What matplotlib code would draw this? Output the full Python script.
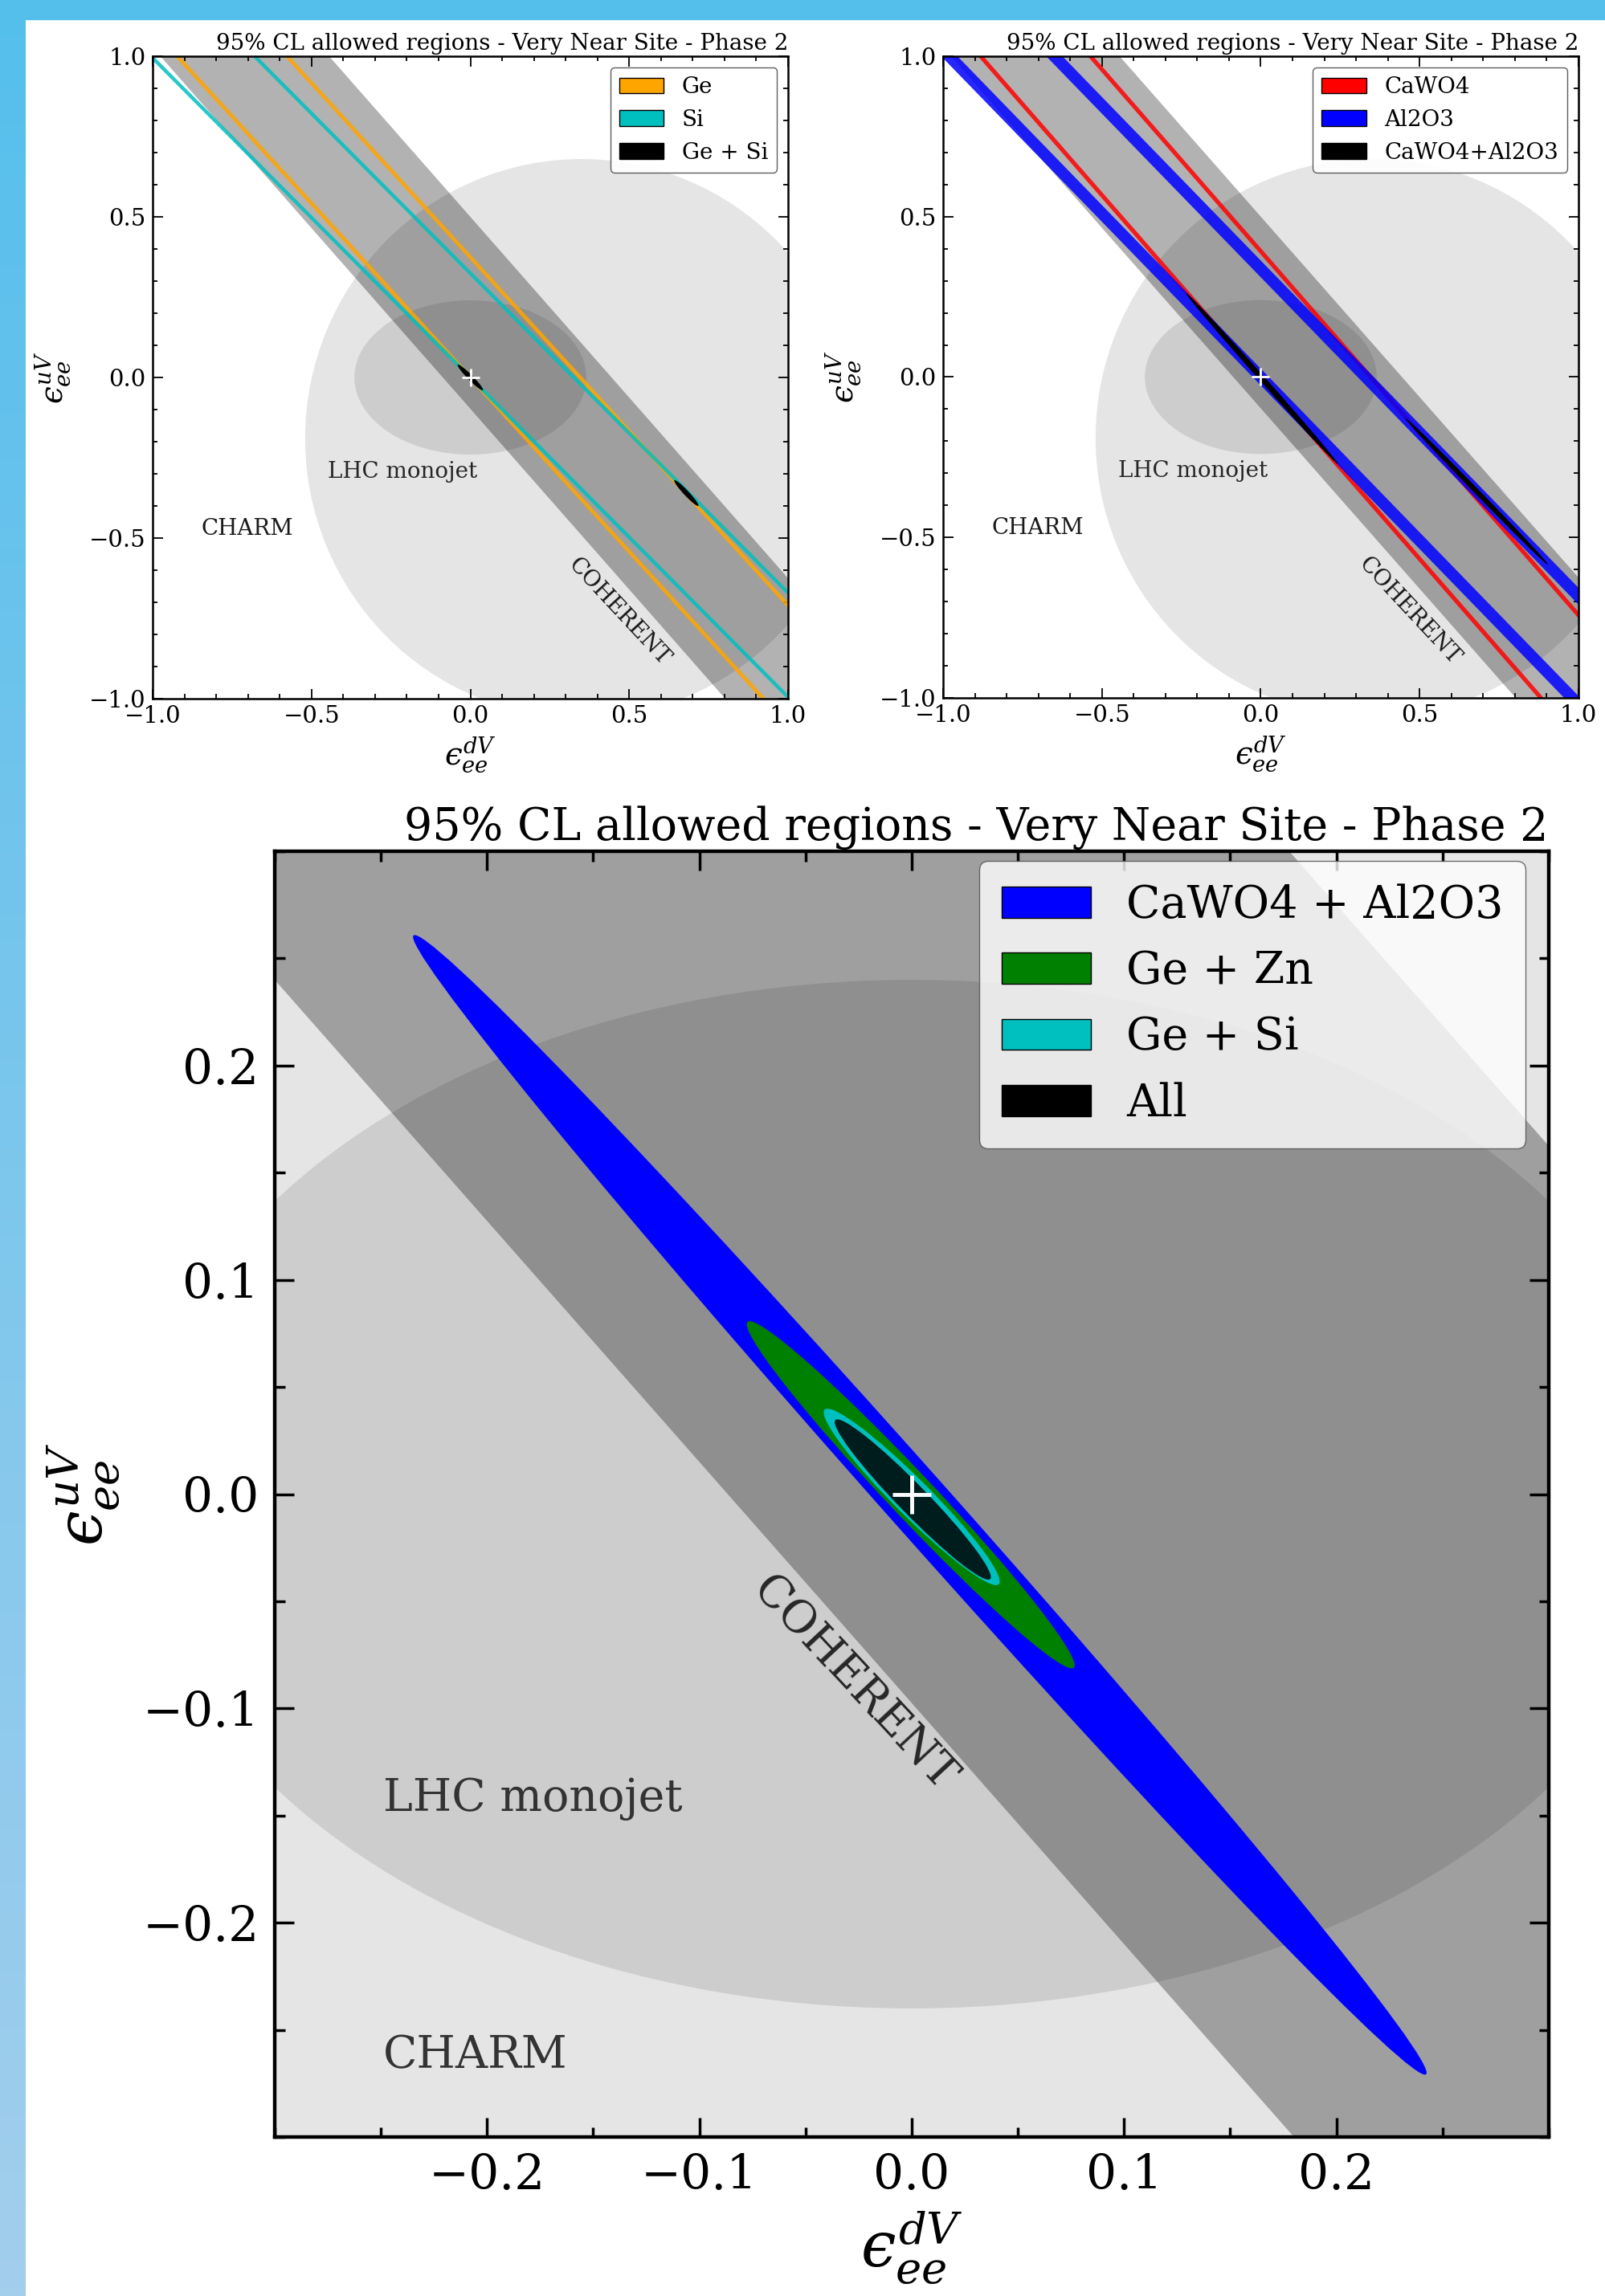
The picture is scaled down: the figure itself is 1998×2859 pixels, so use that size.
import numpy as np
import matplotlib
matplotlib.use("Agg")
import matplotlib.pyplot as plt
from matplotlib.patches import Ellipse, Rectangle
from matplotlib.ticker import MultipleLocator

plt.rcParams['font.family'] = ['DejaVu Serif', 'DejaVu Sans']
plt.rcParams['mathtext.fontset'] = 'dejavuserif'

# ---------------- data ----------------
# Existing bounds (shared by all panels)
coherent_slope = 1.125          # band: lo <= y + slope*x <= hi
coherent_lo = -0.0975
coherent_hi = 0.50
lhc_center = (0.0, 0.0)
lhc_semi = (0.365, 0.24)
charm_center = (0.35, -0.19)
charm_semi = (0.87, 0.87)

# Panel 1: single-target bands (slope, intercepts of the two degenerate bands, half-width)
p1_labels = ['Ge', 'Si']
p1_colors = ['#FFA500', '#00BFBF']
p1_slopes = [1.084, 0.995]
p1_intercepts = [[0.0, 0.3745], [0.0, 0.3244]]
p1_halfwidths = [0.009, 0.008]
p1_comb_label = 'Ge + Si'
# combined region blobs: (cx, cy, half-length, half-width, angle deg)
p1_comb_cx = [0.0, 0.68]
p1_comb_cy = [0.0, -0.36]
p1_comb_len = [0.056, 0.055]
p1_comb_wid = [0.008, 0.008]
p1_comb_ang = [-45.0, -46.5]

# Panel 2
p2_labels = ['CaWO4', 'Al2O3']
p2_colors = ['#FF0000', '#0000FF']
p2_slopes = [1.134, 1.02]
p2_intercepts = [[0.0, 0.392], [0.0, 0.337]]
p2_halfwidths = [0.010, 0.026]
p2_comb_label = 'CaWO4+Al2O3'
p2_comb_cx = [0.004, 0.68]
p2_comb_cy = [-0.005, -0.357]
p2_comb_len = [0.357, 0.32]
p2_comb_wid = [0.009, 0.008]
p2_comb_ang = [-48.1, -45.5]

# Panel 3: combined regions (zoom)
p3_labels = ['CaWO4 + Al2O3', 'Ge + Zn', 'Ge + Si', 'All']
p3_colors = ['#0000FF', '#008000', '#00BFBF', '#000000']
p3_cx = [0.0038, -0.0005, 0.0, 0.0005]
p3_cy = [-0.005, -0.0003, -0.0013, -0.0025]
p3_len = [0.357, 0.1114, 0.0578, 0.052]
p3_wid = [0.0145, 0.0105, 0.0085, 0.0068]
p3_ang = [-48.1, -46.4, -44.8, -45.5]
p3_ticks = [-0.2, -0.1, 0.0, 0.1, 0.2]

title = '95% CL allowed regions - Very Near Site - Phase 2'
xlab = '$\u03f5_{ee}^{dV}$'
ylab = '$\u03f5_{ee}^{uV}$'

# ---------------- figure ----------------
W, H = 1999, 2859
fig = plt.figure(figsize=(W / 100, H / 100), dpi=100)
fig.patch.set_facecolor('white')

# background decoration (blue frame)
bg = fig.add_axes([0, 0, 1, 1], zorder=-10)
bg.set_xlim(0, W)
bg.set_ylim(H, 0)
bg.axis('off')
top_c = np.array([85, 191, 236]) / 255
bot_c = np.array([163, 206, 236]) / 255
t = np.linspace(0, 1, 256)[:, None, None]
grad = top_c[None, None, :] * (1 - t) + bot_c[None, None, :] * t
bg.imshow(grad, extent=[0, 32, H, 0], aspect='auto', zorder=1)
bg.add_patch(Rectangle((0, 0), W, 24, color=top_c, zorder=2))


def px_axes(x0, y0, x1, y1, z):
    return fig.add_axes([x0 / W, 1 - y1 / H, (x1 - x0) / W, (y1 - y0) / H], zorder=z)


def draw_background(ax, lim):
    ax.add_patch(Ellipse(charm_center, 2 * charm_semi[0], 2 * charm_semi[1],
                         facecolor='k', alpha=0.1, lw=0, zorder=1))
    ax.add_patch(Ellipse(lhc_center, 2 * lhc_semi[0], 2 * lhc_semi[1],
                         facecolor='k', alpha=0.1, lw=0, zorder=1))
    xs = np.array([-lim - 1, lim + 1])
    ax.fill_between(xs, coherent_lo - coherent_slope * xs, coherent_hi - coherent_slope * xs,
                    facecolor='k', alpha=0.3, lw=0, zorder=2)
    ax.set_xlim(-lim, lim)
    ax.set_ylim(-lim, lim)


def style_axes(ax, fs, major, minor, lmaj, lmin, lw, spw, pad):
    ax.xaxis.set_major_locator(MultipleLocator(major))
    ax.yaxis.set_major_locator(MultipleLocator(major))
    ax.xaxis.set_minor_locator(MultipleLocator(minor))
    ax.yaxis.set_minor_locator(MultipleLocator(minor))
    ax.tick_params(which='both', direction='in', top=True, right=True, labelsize=fs,
                   width=lw, pad=pad)
    ax.tick_params(which='major', length=lmaj)
    ax.tick_params(which='minor', length=lmin)
    for s in ax.spines.values():
        s.set_linewidth(spw)
        s.set_zorder(10)


def top_panel(ax, labels, colors, slopes, intercepts, halfw, comb_label,
              ccx, ccy, clen, cwid, cang):
    draw_background(ax, 1.0)
    xs = np.array([-2.0, 2.0])
    for col, k, cs, w in zip(colors, slopes, intercepts, halfw):
        for c in cs:
            ax.fill_between(xs, c - k * xs - w, c - k * xs + w, facecolor=col,
                            alpha=0.85, lw=0, zorder=3)
    for x, y, l, wd, a in zip(ccx, ccy, clen, cwid, cang):
        ax.add_patch(Ellipse((x, y), 2 * l, 2 * wd, angle=a, facecolor='k', lw=0, zorder=4))
    ax.plot([0], [0], marker='+', color='white', ms=16, mew=2, zorder=6)
    ax.text(-0.449, -0.293, 'LHC monojet', fontsize=20, va='center', ha='left', color='0.15', zorder=7)
    ax.text(-0.848, -0.47, 'CHARM', fontsize=20, va='center', ha='left', color='0.1', zorder=7)
    ax.text(0.469, -0.73, 'COHERENT', fontsize=20, va='center', ha='center', rotation=-47,
            color='0.1', zorder=7)
    handles = [Rectangle((0, 0), 1, 1, facecolor=c, edgecolor='k') for c in colors]
    handles.append(Rectangle((0, 0), 1, 1, facecolor='k', edgecolor='k'))
    leg = ax.legend(handles, labels + [comb_label], loc='upper right', fontsize=20,
                    fancybox=True, framealpha=0.9, edgecolor='0.3', borderaxespad=0.5)
    leg.set_zorder(20)
    style_axes(ax, 21, 0.5, 0.1, 9, 4.5, 1.3, 1.8, 6)
    ax.set_title(title, loc='right', fontsize=20, pad=6)
    ax.set_xlabel(xlab, fontsize=28, labelpad=6.5)
    ax.set_ylabel(ylab, fontsize=28, labelpad=15.5)


ax1 = px_axes(190, 70, 981, 870, 1)
top_panel(ax1, p1_labels, p1_colors, p1_slopes, p1_intercepts, p1_halfwidths,
          p1_comb_label, p1_comb_cx, p1_comb_cy, p1_comb_len, p1_comb_wid, p1_comb_ang)

ax2 = px_axes(1174, 70, 1965, 869, 1)
top_panel(ax2, p2_labels, p2_colors, p2_slopes, p2_intercepts, p2_halfwidths,
          p2_comb_label, p2_comb_cx, p2_comb_cy, p2_comb_len, p2_comb_wid, p2_comb_ang)

# white sheet holding the lower chart (covers the bottom of the upper labels)
cover = px_axes(32, 975, W, H, 2)
cover.set_facecolor('white')
cover.set_xticks([])
cover.set_yticks([])
for s in cover.spines.values():
    s.set_visible(False)

ax3 = px_axes(342, 1060, 1928, 2661, 3)
draw_background(ax3, 0.3)
for x, y, l, wd, a, col in zip(p3_cx, p3_cy, p3_len, p3_wid, p3_ang, p3_colors):
    ax3.add_patch(Ellipse((x, y), 2 * l, 2 * wd, angle=a, facecolor=col,
                          alpha=0.85 if col == '#000000' else 1.0, lw=0, zorder=4))
ax3.plot([0], [0], marker='+', color='white', ms=34, mew=3.5, zorder=6)
ax3.text(-0.249, -0.142, 'LHC monojet', fontsize=40, va='center', ha='left', color='0.2', zorder=7)
ax3.text(-0.249, -0.262, 'CHARM', fontsize=40, va='center', ha='left', color='0.2', zorder=7)
ax3.text(-0.027, -0.0886, 'COHERENT', fontsize=40, va='center', ha='center', rotation=-47,
         color='0.15', zorder=7)
h3 = [Rectangle((0, 0), 1, 1, facecolor=c, edgecolor='k') for c in p3_colors]
leg3 = ax3.legend(h3, p3_labels, loc='upper right', bbox_to_anchor=(0.982, 0.9925),
                  borderaxespad=0.0, fancybox=True, framealpha=0.8, edgecolor='0.3',
                  borderpad=0.5, fontsize=40)
leg3.set_zorder(20)
style_axes(ax3, 43, 0.1, 0.05, 17, 9, 2.5, 3.2, 14)
ax3.set_xticks(p3_ticks)
ax3.set_yticks(p3_ticks)
ax3.set_title(title, loc='right', fontsize=40, pad=10)
ax3.set_xlabel(xlab, fontsize=56, labelpad=9)
ax3.set_ylabel(ylab, fontsize=56, labelpad=18.5)

fig.savefig('out.png', dpi=100)
